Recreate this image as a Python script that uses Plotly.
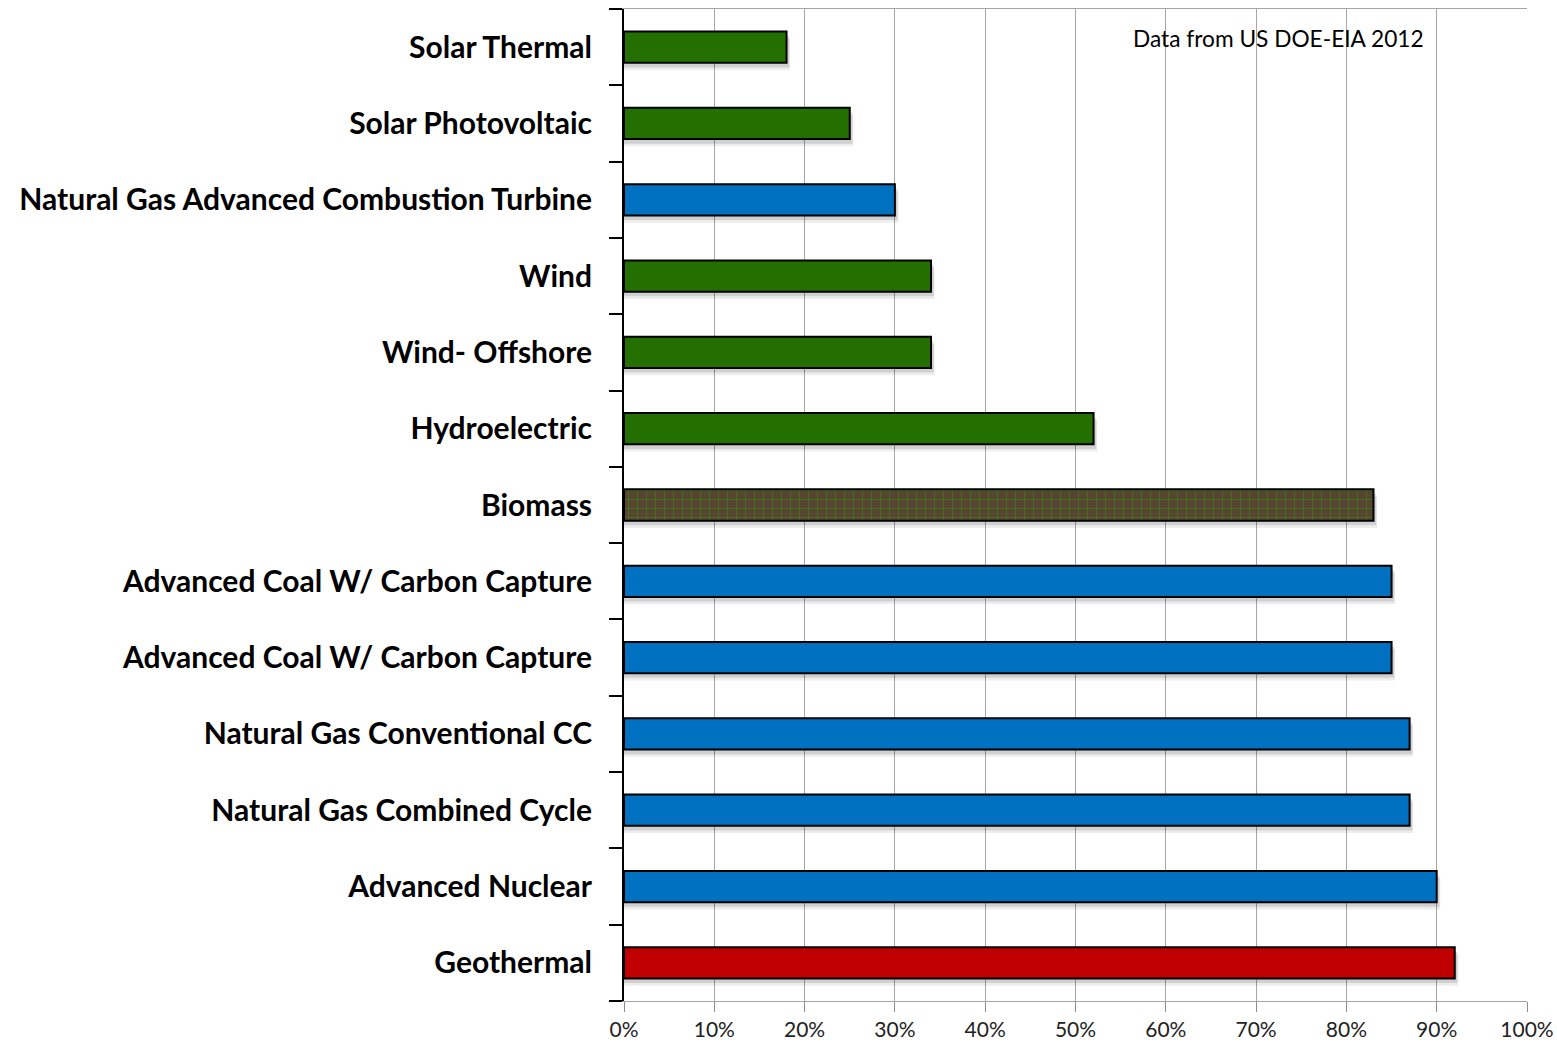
import plotly.graph_objects as go

# Capacity factor by generation technology (top to bottom)
technologies = [
    "Solar Thermal",
    "Solar Photovoltaic",
    "Natural Gas Advanced Combustion Turbine",
    "Wind",
    "Wind- Offshore",
    "Hydroelectric",
    "Biomass",
    "Advanced Coal W/ Carbon Capture",
    "Advanced Coal W/ Carbon Capture",
    "Natural Gas Conventional CC",
    "Natural Gas Combined Cycle",
    "Advanced Nuclear",
    "Geothermal",
]
capacity_factor = [18, 25, 30, 34, 34, 52, 83, 85, 85, 87, 87, 90, 92]
fuel_group = ["renewable", "renewable", "fossil", "renewable", "renewable", "renewable",
              "biomass", "fossil", "fossil", "fossil", "fossil", "fossil", "geothermal"]

x_ticks = [0, 10, 20, 30, 40, 50, 60, 70, 80, 90, 100]

group_colors = {
    "renewable": "#237000",
    "fossil": "#0070c0",
    "geothermal": "#c00000",
}

BAR_WIDTH = 0.41
positions = list(range(len(technologies)))
frac = [v / 100 for v in capacity_factor]

fig = go.Figure()

# soft drop shadow under each bar (two translucent layers)
for dy, dx, alpha in [(0.095, 0.004, 0.07), (0.06, 0.003, 0.12)]:
    fig.add_trace(go.Bar(
        x=[f + dx for f in frac],
        y=positions,
        orientation="h",
        width=BAR_WIDTH,
        offset=-BAR_WIDTH / 2 + dy,
        marker=dict(color=f"rgba(0,0,0,{alpha})", line=dict(width=0)),
        hoverinfo="skip",
        showlegend=False,
    ))

# solid bars
solid = [i for i, g in enumerate(fuel_group) if g != "biomass"]
fig.add_trace(go.Bar(
    x=[frac[i] for i in solid],
    y=[positions[i] for i in solid],
    orientation="h",
    width=BAR_WIDTH,
    marker=dict(color=[group_colors[fuel_group[i]] for i in solid],
                line=dict(color="black", width=2)),
    hovertext=[technologies[i] for i in solid],
    showlegend=False,
))

# biomass bar with a green grid pattern over a brown fill
bio = [i for i, g in enumerate(fuel_group) if g == "biomass"]
fig.add_trace(go.Bar(
    x=[frac[i] for i in bio],
    y=[positions[i] for i in bio],
    orientation="h",
    width=BAR_WIDTH,
    marker=dict(
        color="#564530",
        line=dict(color="black", width=2),
        pattern=dict(shape="+", fgcolor="#2f9a0c", size=9, solidity=0.2,
                     fillmode="overlay"),
    ),
    hovertext=[technologies[i] for i in bio],
    showlegend=False,
))

label_font = dict(family="Lato, sans-serif", size=30, color="black")

fig.update_layout(
    width=1557,
    height=1042,
    margin=dict(l=624, r=30, t=9, b=41),
    barmode="overlay",
    plot_bgcolor="white",
    paper_bgcolor="white",
    xaxis=dict(
        range=[0, 1],
        tickvals=[t / 100 for t in x_ticks],
        ticktext=[f"{t}%" for t in x_ticks],
        showgrid=True,
        gridcolor="#a6a6a6",
        gridwidth=1,
        showline=True,
        linecolor="#a6a6a6",
        linewidth=1,
        mirror=True,
        ticks="outside",
        ticklen=10,
        tickcolor="#8c8c8c",
        tickfont=dict(family="Lato, sans-serif", size=21, color="#222222"),
        zeroline=False,
        automargin=False,
    ),
    yaxis=dict(
        range=[len(technologies) - 0.5, -0.5],
        tickvals=positions,
        ticktext=[f"<b>{t}</b>" for t in technologies],
        tickfont=label_font,
        ticks="",
        ticklabelstandoff=24,
        showgrid=False,
        showline=True,
        linecolor="black",
        linewidth=2,
        zeroline=False,
        automargin=False,
        minor=dict(
            tick0=0.5,
            dtick=1,
            ticks="outside",
            ticklen=13,
            tickcolor="black",
            tickwidth=2,
            showgrid=False,
        ),
    ),
    annotations=[
        dict(
            text="Data from US DOE-EIA 2012",
            xref="paper", yref="paper",
            x=0.562, y=0.97,
            xanchor="left", yanchor="middle",
            showarrow=False,
            font=dict(family="Lato, sans-serif", size=22.7, color="black"),
        )
    ],
)

fig.write_html("out.html")
